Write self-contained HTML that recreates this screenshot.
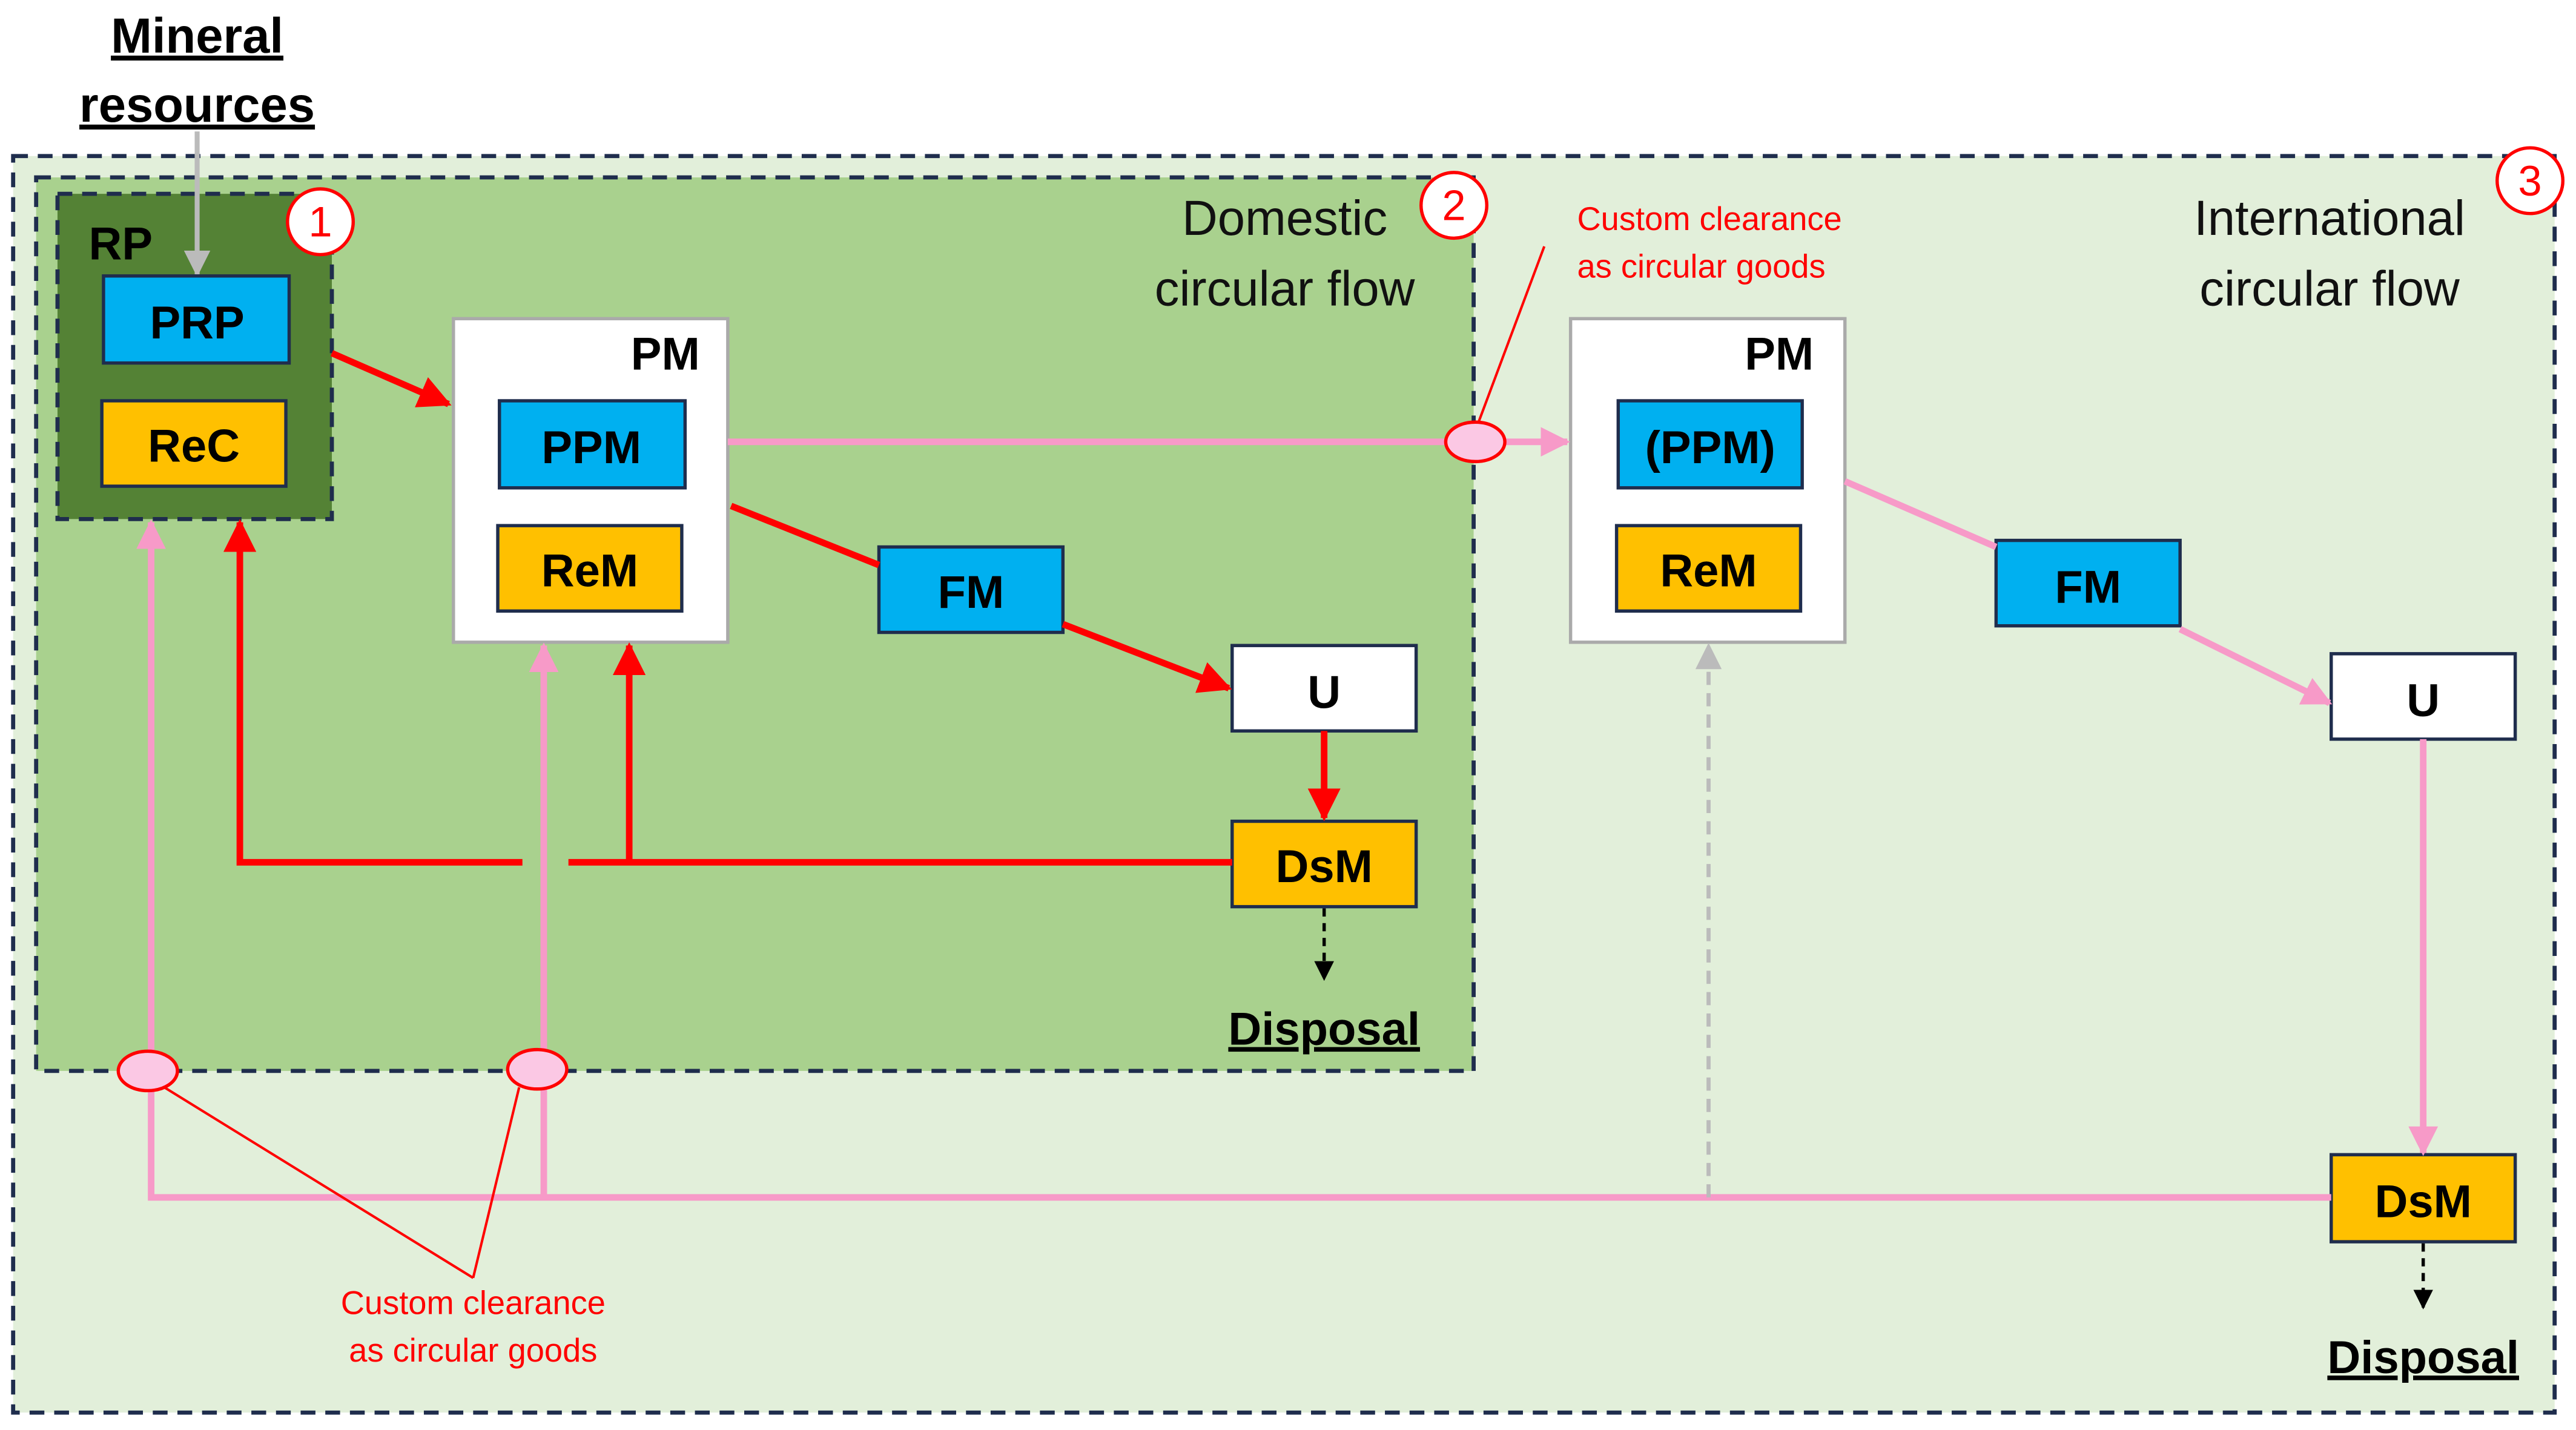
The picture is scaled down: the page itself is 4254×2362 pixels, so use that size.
<!DOCTYPE html>
<html><head><meta charset="utf-8"><style>html,body{margin:0;padding:0;background:#fff}svg{display:block}</style></head>
<body>
<svg width="4254" height="2362" viewBox="0 0 1568 870.6" xmlns="http://www.w3.org/2000/svg" font-family="'Liberation Sans', sans-serif">
<defs>
<marker id="ar" markerWidth="8" markerHeight="8" refX="7" refY="4" orient="auto" markerUnits="userSpaceOnUse" viewBox="0 0 8 8"><path d="M0,0 L8,4 L0,8 z" fill="#f00"/></marker>
<marker id="ar2" viewBox="0 0 10 10" refX="9" refY="5" markerWidth="20" markerHeight="20" orient="auto" markerUnits="userSpaceOnUse"><path d="M0,0 L10,5 L0,10 z" fill="#f00"/></marker>
<marker id="ap" viewBox="0 0 10 10" refX="9" refY="5" markerWidth="18" markerHeight="18" orient="auto" markerUnits="userSpaceOnUse"><path d="M0,0 L10,5 L0,10 z" fill="#f79ac8"/></marker>
<marker id="ag" viewBox="0 0 10 10" refX="9" refY="5" markerWidth="16" markerHeight="16" orient="auto" markerUnits="userSpaceOnUse"><path d="M0,0 L10,5 L0,10 z" fill="#bbb"/></marker>
<marker id="ak" viewBox="0 0 10 10" refX="9" refY="5" markerWidth="12" markerHeight="12" orient="auto" markerUnits="userSpaceOnUse"><path d="M0,0 L10,5 L0,10 z" fill="#000"/></marker>
</defs>
<rect x="8" y="95" width="1547" height="765" fill="#e2efda" stroke="#1f2d4d" stroke-width="2.5" stroke-dasharray="9,6"/>
<rect x="22" y="108" width="875" height="544" fill="#a9d18e" stroke="#1f2d4d" stroke-width="2.5" stroke-dasharray="9,6"/>
<rect x="35" y="118" width="167" height="198" fill="#548235" stroke="#1f2d4d" stroke-width="2.5" stroke-dasharray="9,6"/>
<text x="120" y="32" font-size="30" font-weight="bold" text-anchor="middle" text-decoration="underline">Mineral</text>
<text x="120" y="74" font-size="30" font-weight="bold" text-anchor="middle" text-decoration="underline">resources</text>
<line x1="120" y1="80" x2="120" y2="167" stroke="#bbb" stroke-width="3" marker-end="url(#ag)"/>
<text x="54" y="158" font-size="28" font-weight="bold">RP</text>
<g stroke="#1f2d4d" stroke-width="2">
<rect x="63" y="168" width="113" height="53" fill="#00b0f0"/>
<rect x="62" y="244" width="112" height="52" fill="#ffc000"/>
<rect x="304" y="244" width="113" height="53" fill="#00b0f0"/>
<rect x="303" y="320" width="112" height="52" fill="#ffc000"/>
<rect x="535" y="333" width="112" height="52" fill="#00b0f0"/>
<rect x="750" y="393" width="112" height="52" fill="#fff"/>
<rect x="750" y="500" width="112" height="52" fill="#ffc000"/>
<rect x="985" y="244" width="112" height="53" fill="#00b0f0"/>
<rect x="984" y="320" width="112" height="52" fill="#ffc000"/>
<rect x="1215" y="329" width="112" height="52" fill="#00b0f0"/>
<rect x="1419" y="398" width="112" height="52" fill="#fff"/>
<rect x="1419" y="703" width="112" height="53" fill="#ffc000"/>
</g>
<rect x="276" y="194" width="167" height="197" fill="#fff" stroke="#aaa" stroke-width="2"/>
<rect x="956" y="194" width="167" height="197" fill="#fff" stroke="#aaa" stroke-width="2"/>
<g stroke="#1f2d4d" stroke-width="2">
<rect x="304" y="244" width="113" height="53" fill="#00b0f0"/>
<rect x="303" y="320" width="112" height="52" fill="#ffc000"/>
<rect x="985" y="244" width="112" height="53" fill="#00b0f0"/>
<rect x="984" y="320" width="112" height="52" fill="#ffc000"/>
</g>
<g font-size="28" font-weight="bold" text-anchor="middle">
<text x="120" y="206">PRP</text>
<text x="118" y="281">ReC</text>
<text x="405" y="225">PM</text>
<text x="360" y="282">PPM</text>
<text x="359" y="357">ReM</text>
<text x="591" y="370">FM</text>
<text x="806" y="431">U</text>
<text x="806" y="537">DsM</text>
<text x="1083" y="225">PM</text>
<text x="1041" y="282">(PPM)</text>
<text x="1040" y="357">ReM</text>
<text x="1271" y="367">FM</text>
<text x="1475" y="436">U</text>
<text x="1475" y="741">DsM</text>
<text x="806" y="636" text-decoration="underline">Disposal</text>
<text x="1475" y="836" text-decoration="underline">Disposal</text>
</g>
<g font-size="30" text-anchor="middle" fill="#111">
<text x="782" y="143">Domestic</text><text x="782" y="186">circular flow</text>
<text x="1418" y="143">International</text><text x="1418" y="186">circular flow</text>
</g>
<g fill="#fff" stroke="#f00" stroke-width="2">
<circle cx="195" cy="135" r="20"/><circle cx="885" cy="125" r="20"/><circle cx="1540" cy="110" r="20"/>
</g>
<g font-size="26" fill="#f00" text-anchor="middle"><text x="195" y="144">1</text><text x="885" y="134">2</text><text x="1540" y="119">3</text></g>
<!-- red flows -->
<g stroke="#f00" stroke-width="4" fill="none">
<line x1="202" y1="215" x2="273" y2="246" marker-end="url(#ar2)"/>
<line x1="445" y1="308" x2="535" y2="344"/>
<line x1="647" y1="380" x2="748" y2="419" marker-end="url(#ar2)"/>
<line x1="806" y1="445" x2="806" y2="498" marker-end="url(#ar2)"/>
<polyline points="750,525 346,525"/>
<polyline points="318,525 146,525 146,318" marker-end="url(#ar2)"/>
<line x1="383" y1="525" x2="383" y2="393" marker-end="url(#ar2)"/>
</g>
<g stroke="#000" stroke-width="2" stroke-dasharray="5,4"><line x1="806" y1="553" x2="806" y2="596" marker-end="url(#ak)"/><line x1="1475" y1="757" x2="1475" y2="796" marker-end="url(#ak)"/></g>
<!-- pink flows -->
<g stroke="#f79ac8" stroke-width="4" fill="none">
<line x1="443" y1="269" x2="880" y2="269"/>
<line x1="916" y1="269" x2="954" y2="269" marker-end="url(#ap)"/>
<line x1="1123" y1="293" x2="1215" y2="333"/>
<line x1="1327" y1="383" x2="1418" y2="428" marker-end="url(#ap)"/>
<line x1="1475" y1="450" x2="1475" y2="702" marker-end="url(#ap)"/>
<polyline points="1419,729 92,729 92,664"/>
<line x1="92" y1="640" x2="92" y2="318" marker-end="url(#ap)"/>
<line x1="331" y1="729" x2="331" y2="663"/>
<line x1="331" y1="639" x2="331" y2="393" marker-end="url(#ap)"/>
</g>
<line x1="1040" y1="729" x2="1040" y2="393" stroke="#bbb" stroke-width="2.5" stroke-dasharray="8,5" marker-end="url(#ag)"/>
<g fill="#fbc8e4" stroke="#f00" stroke-width="2">
<ellipse cx="898" cy="269" rx="18" ry="12"/>
<ellipse cx="90" cy="652" rx="18" ry="12"/>
<ellipse cx="327" cy="651" rx="18" ry="12"/>
</g>
<g stroke="#f00" stroke-width="1.5">
<line x1="900" y1="257" x2="940" y2="150"/>
<line x1="100" y1="662" x2="288" y2="778"/>
<line x1="316" y1="662" x2="288" y2="778"/>
</g>
<g font-size="20" fill="#f00">
<text x="960" y="140">Custom clearance</text><text x="960" y="169">as circular goods</text>
<text x="288" y="800" text-anchor="middle">Custom clearance</text><text x="288" y="829" text-anchor="middle">as circular goods</text>
</g>
</svg>
</body></html>
